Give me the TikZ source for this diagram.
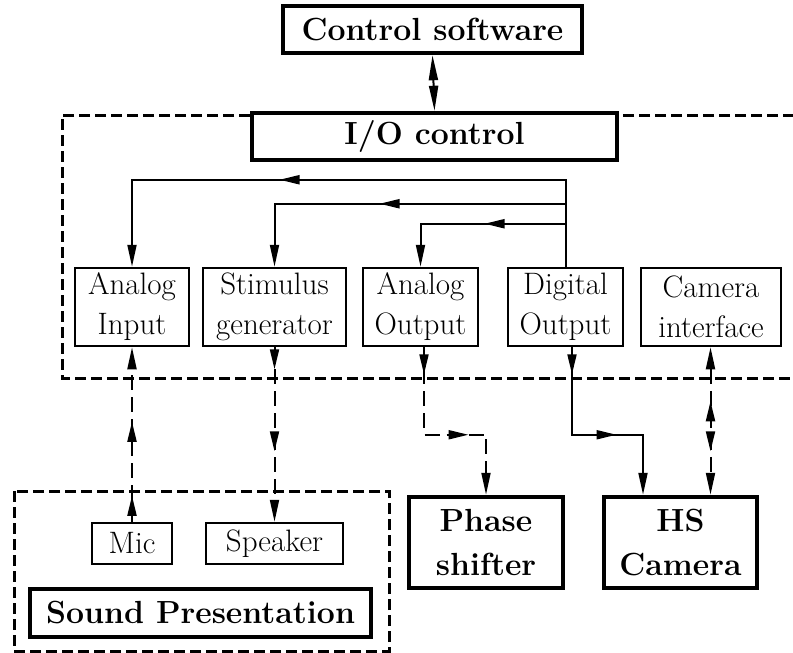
\documentclass[tikz,border=0pt]{standalone}
\usepackage{fontspec}
\usetikzlibrary{arrows.meta,decorations.markings,calc}
\newcommand{\mh}{\arrow{Triangle[length=20pt,width=9pt]}}
\newcommand{\mhr}{\arrowreversed{Triangle[length=20pt,width=9pt]}}
\tikzset{
  thinbox/.style={draw, line width=2.5pt, fill=white, align=center, inner sep=0pt,
    font=\fontsize{31}{40}\selectfont},
  boldbox/.style={draw, line width=4.5pt, fill=white, align=center, inner sep=0pt,
    font=\fontsize{32}{44}\selectfont\bfseries},
  conn/.style={line width=2pt},
  dconn/.style={line width=2pt, dash pattern=on 15pt off 7pt},
  frame/.style={line width=3pt, dash pattern=on 11pt off 5pt},
  endtip/.style={-{Triangle[length=22pt,width=9pt]}},
  bothtip/.style={{Triangle[length=22pt,width=9pt]}-{Triangle[length=22pt,width=9pt]}},
}
\begin{document}
\begin{tikzpicture}[x=1pt,y=-1pt]
\useasboundingbox (0,0) rectangle (793,653);
\fill[white] (0,0) rectangle (793,653);

% dashed frames
\draw[frame] (810,115) -- (62,115) -- (62,378) -- (810,378);
\draw[frame] (14,491) rectangle (389,651);

% top boxes
\node[boldbox, minimum width=299pt, minimum height=47pt] (cs) at (432.5,29.5) {Control software};
\node[boldbox, minimum width=365pt, minimum height=47pt] (io) at (434.5,136.5) {I/O control};

% row of modules
\node[thinbox, minimum width=114pt, minimum height=78pt] (ain) at (132,307) {Analog\\Input};
\node[thinbox, minimum width=143pt, minimum height=78pt] (stim) at (274.5,307) {Stimulus\\generator};
\node[thinbox, minimum width=115pt, minimum height=78pt] (aout) at (420.5,307) {Analog\\Output};
\node[thinbox, minimum width=115pt, minimum height=78pt] (dout) at (565.5,307) {Digital\\Output};
\node[thinbox, minimum width=140pt, minimum height=78pt] (camif) at (711,307) {Camera\\interface};

% sound presentation
\node[thinbox, minimum width=80pt, minimum height=41pt] (mic) at (132,543.5) {Mic};
\node[thinbox, minimum width=137pt, minimum height=41pt] (spk) at (274.5,543.5) {Speaker};
\node[boldbox, minimum width=341pt, minimum height=48pt] (snd) at (200.5,613) {Sound Presentation};

% devices
\node[boldbox, minimum width=154pt, minimum height=91pt] (phase) at (486,542.5) {Phase\\shifter};
\node[boldbox, minimum width=153pt, minimum height=91pt] (hs) at (680.5,542.5) {HS\\Camera};

% control software <-> I/O control
\draw[conn, {Triangle[length=25pt,width=9pt]}-{Triangle[length=25pt,width=9pt]}] (cs.south) -- (io.north);

% feedback from digital output
\draw[conn, endtip, postaction={decorate},
  decoration={markings, mark=at position 373pt with {\mh}}]
  (dout.north) -- ++(0,-87) -| (ain.north);
\draw[conn, endtip, postaction={decorate},
  decoration={markings, mark=at position 249pt with {\mh}}]
  (dout.north) -- ++(0,-63) -| (stim.north);
\draw[conn, endtip, postaction={decorate},
  decoration={markings, mark=at position 124pt with {\mh}}]
  (dout.north) -- ++(0,-43) -| (aout.north);

% mic -> analog input
\draw[dconn, endtip, postaction={decorate},
  decoration={markings, mark=at position 26pt with {\mh}, mark=at position 100pt with {\mh}}]
  (mic.north) -- (ain.south);
% stimulus -> speaker
\draw[dconn, endtip, postaction={decorate},
  decoration={markings, mark=at position 22pt with {\mh}, mark=at position 104pt with {\mh}}]
  (stim.south) -- (spk.north);
% analog output -> phase shifter
\draw[dconn, endtip, postaction={decorate},
  decoration={markings, mark=at position 27pt with {\mh}, mark=at position 132pt with {\mh}}]
  ([xshift=3.5pt]aout.south) |- ($(phase.north)+(0,-60)$) -- (phase.north);
% digital output -> HS camera
\draw[conn, endtip, postaction={decorate},
  decoration={markings, mark=at position 27pt with {\mh}, mark=at position 132pt with {\mh}}]
  ([xshift=6.5pt]dout.south) |- ($([xshift=-37.5pt]hs.north)+(0,-60)$) -- ([xshift=-37.5pt]hs.north);
% camera interface <-> HS camera
\draw[dconn, bothtip, postaction={decorate},
  decoration={markings, mark=at position 54pt with {\mhr}, mark=at position 104pt with {\mh}}]
  ([xshift=-0.5pt]camif.south) -- ([xshift=30pt]hs.north);
\end{tikzpicture}
\end{document}
